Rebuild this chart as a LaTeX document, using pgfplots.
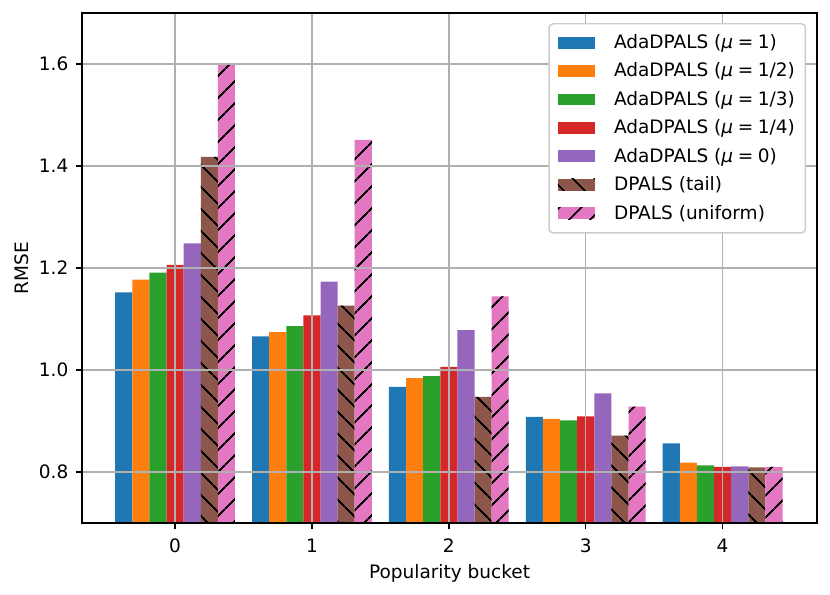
\documentclass[border=0pt]{standalone}
\usepackage{fontspec}
\setmainfont{DejaVu Sans}
\usepackage{pgfplots}
\pgfplotsset{compat=1.18}
\usetikzlibrary{patterns.meta}
\definecolor{c1}{HTML}{1F77B4}
\definecolor{c2}{HTML}{FF7F0E}
\definecolor{c3}{HTML}{2CA02C}
\definecolor{c4}{HTML}{D62728}
\definecolor{c5}{HTML}{9467BD}
\definecolor{c6}{HTML}{8C564B}
\definecolor{c7}{HTML}{E377C2}
\definecolor{gridc}{HTML}{B0B0B0}
\newcommand{\mueq}[1]{({\itshape μ}\hspace{0.25em}=\hspace{0.25em}#1)}
\begin{document}
\begin{tikzpicture}
\begin{axis}[
  scale only axis,
  width=357.6pt, height=248.1pt,
  xmin=-0.68, xmax=4.69,
  ymin=0.7, ymax=1.7,
  ybar=0pt, bar width=0.125,
  axis on top,
  grid=major,
  major grid style={gridc, line width=0.72pt},
  axis line style={line width=0.72pt},
  tick style={black, line width=0.72pt},
  tick align=outside,
  major tick length=3.1pt,
  xtick pos=bottom, ytick pos=left,
  xtick={0,1,2,3,4},
  ytick={0.8,1.0,1.2,1.4,1.6},
  yticklabel style={/pgf/number format/fixed, /pgf/number format/precision=1, /pgf/number format/fixed zerofill},
  /pgf/number format/assume math mode=true,
  ticklabel style={font=\fontsize{9}{11}\selectfont},
  xticklabel style={yshift=-1pt},
  label style={font=\fontsize{9}{11}\selectfont},
  xlabel={Popularity bucket},
  xlabel style={yshift=1pt},
  ylabel={RMSE},
  ylabel style={yshift=-2pt},
  legend style={at={(1,1)}, anchor=north east, xshift=-5.3pt, yshift=-4.9pt,
    draw=black!20, rounded corners=2pt, line width=0.72pt,
    font=\fontsize{9}{11}\selectfont, row sep=1.5pt,
    inner xsep=4.3pt, inner ysep=3.2pt,
    /tikz/every odd column/.append style={column sep=8.5pt},
    /tikz/every even column/.append style={column sep=0pt},
    nodes={inner xsep=0.8pt}},
  legend cell align=left,
  legend image code/.code={\path[#1, draw=none, sharp corners] (0pt,-2.7pt) rectangle (18pt,3.1pt);},
]
\addplot[fill=c1, draw=none, bar shift=-0.375] coordinates {(0,1.152) (1,1.066) (2,0.967) (3,0.908) (4,0.856)};
\addplot[fill=c2, draw=none, bar shift=-0.25] coordinates {(0,1.177) (1,1.074) (2,0.984) (3,0.904) (4,0.818)};
\addplot[fill=c3, draw=none, bar shift=-0.125] coordinates {(0,1.191) (1,1.086) (2,0.988) (3,0.901) (4,0.813)};
\addplot[fill=c4, draw=none, bar shift=0] coordinates {(0,1.206) (1,1.107) (2,1.006) (3,0.909) (4,0.810)};
\addplot[fill=c5, draw=none, bar shift=0.125] coordinates {(0,1.248) (1,1.173) (2,1.078) (3,0.954) (4,0.811)};
\addplot[fill=c6, draw=none, bar shift=0.25,
  postaction={pattern={Lines[angle=-45,distance=7.4pt,line width=0.9pt]}, pattern color=black}]
  coordinates {(0,1.418) (1,1.126) (2,0.947) (3,0.871) (4,0.809)};
\addplot[fill=c7, draw=none, bar shift=0.375,
  postaction={pattern={Lines[angle=45,distance=7.4pt,line width=0.9pt]}, pattern color=black}]
  coordinates {(0,1.600) (1,1.451) (2,1.144) (3,0.928) (4,0.810)};
\legend{AdaDPALS \mueq{1}, AdaDPALS \mueq{1/2}, AdaDPALS \mueq{1/3}, AdaDPALS \mueq{1/4}, AdaDPALS \mueq{0}, DPALS (tail), DPALS (uniform)}
\coordinate (sw) at (rel axis cs:0,0);
\coordinate (ne) at (rel axis cs:1,1);
\end{axis}
\pgfresetboundingbox
\path ([shift={(-39.9pt,-35pt)}]sw) rectangle ([shift={(6.3pt,6.3pt)}]ne);
\end{tikzpicture}
\end{document}
